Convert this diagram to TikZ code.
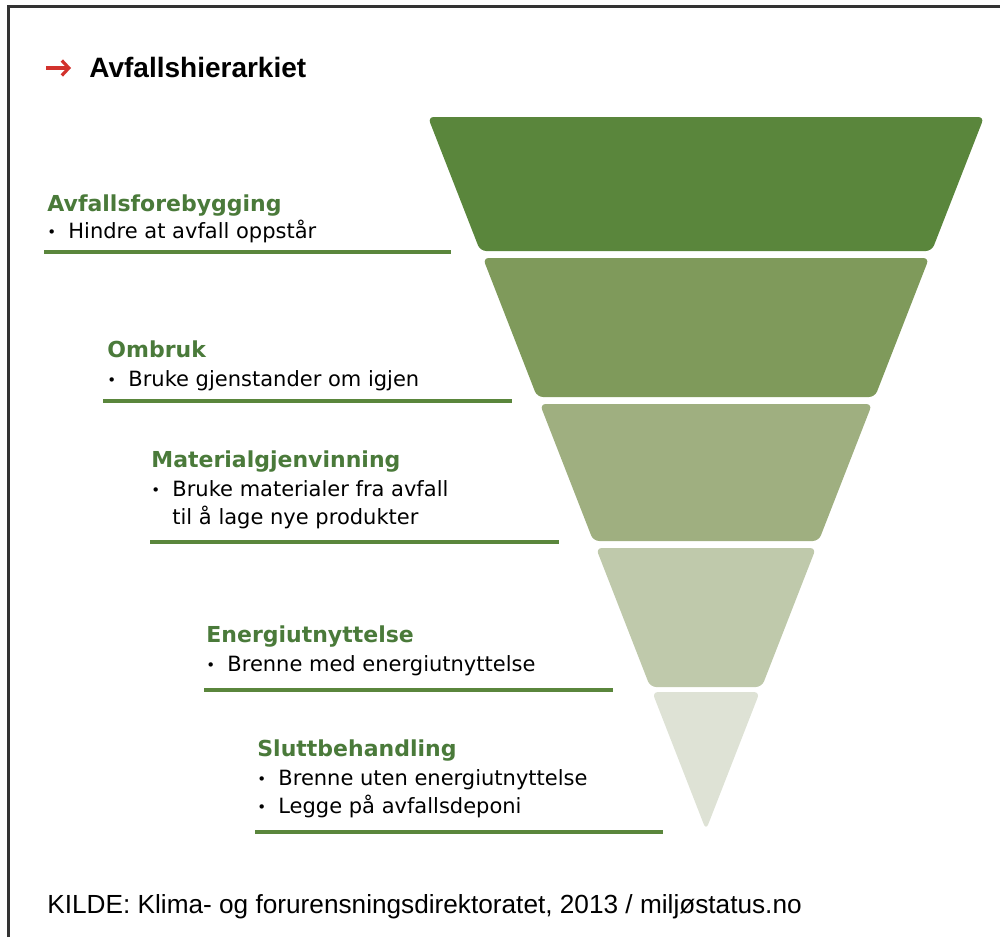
\documentclass[tikz,border=0pt]{standalone}
\usepackage{fontspec}
\setmainfont{Liberation Sans}
\newfontfamily\dvs{DejaVu Sans}
\usetikzlibrary{arrows.meta}
\definecolor{frame}{HTML}{333333}
\definecolor{gA}{HTML}{5A863C}
\definecolor{gB}{HTML}{7F9A5B}
\definecolor{gC}{HTML}{9FAF80}
\definecolor{gD}{HTML}{BFC9AB}
\definecolor{gE}{HTML}{DEE2D5}
\definecolor{headgreen}{HTML}{4A7A3A}
\definecolor{arrowred}{HTML}{D2322D}
\tikzset{
  band/.style={rounded corners=3pt},
  uline/.style={draw=gA, line width=2pt},
  head/.style={anchor=base west, inner sep=0pt, text=headgreen, font=\dvs\fontsize{11}{13}\selectfont\bfseries},
  item/.style={anchor=base west, inner sep=0pt, font=\dvs\fontsize{10.5}{13}\selectfont},
}
\newcommand{\bul}{\makebox[10.5pt][l]{\raisebox{0.2pt}{\fontsize{7.5}{7.5}\selectfont\textbullet}}}
\begin{document}
\begin{tikzpicture}[x=0.5pt,y=-0.5pt]
\useasboundingbox (0,0) rectangle (1000,937);
% frame
\draw[frame, line width=1.3pt] (8.5,937) -- (8.5,6.5) -- (1000,6.5);
% title
\coordinate (arS) at (46,68);
\coordinate (arE) at (71,68);
\draw[arrowred, line width=1.6pt, -{Straight Barb[length=3.5pt,width=7.5pt]}] (arS) -- (arE);
\node[anchor=base west, inner sep=0pt, font=\fontsize{14}{17}\selectfont\bfseries] (title) at (89,77) {Avfallshierarkiet};
% pyramid bands
\fill[gA, band] (427.9,117) -- (984.1,117) -- (931.8,251) -- (480.2,251) -- cycle;
\fill[gB, band] (482.9,258) -- (929.1,258) -- (874.9,397) -- (537.1,397) -- cycle;
\fill[gC, band] (539.9,404) -- (872.1,404) -- (818.7,541) -- (593.3,541) -- cycle;
\fill[gD, band] (596,548) -- (816,548) -- (761.8,687) -- (650.2,687) -- cycle;
\fill[gE, band] (652.2,692) -- (759.8,692) -- (706,830) -- cycle;
% level 1
\node[head] (h1) at (47,211) {Avfallsforebygging};
\node[item] (i1) at (47,238) {\bul Hindre at avfall oppstår};
\coordinate (l1a) at (44,252); \coordinate (l1b) at (451,252);
\draw[uline] (l1a) -- (l1b);
% level 2
\node[head] (h2) at (107,357) {Ombruk};
\node[item] (i2) at (107,386) {\bul Bruke gjenstander om igjen};
\coordinate (l2a) at (103,401); \coordinate (l2b) at (512,401);
\draw[uline] (l2a) -- (l2b);
% level 3
\node[head] (h3) at (151,467) {Materialgjenvinning};
\node[item] (i3) at (151,496) {\bul Bruke materialer fra avfall};
\node[item] (i3b) at (172,524) {til å lage nye produkter};
\coordinate (l3a) at (150,542); \coordinate (l3b) at (559,542);
\draw[uline] (l3a) -- (l3b);
% level 4
\node[head] (h4) at (206,642) {Energiutnyttelse};
\node[item] (i4) at (206,671) {\bul Brenne med energiutnyttelse};
\coordinate (l4a) at (204,690); \coordinate (l4b) at (613,690);
\draw[uline] (l4a) -- (l4b);
% level 5
\node[head] (h5) at (257,756) {Sluttbehandling};
\node[item] (i5) at (257,785) {\bul Brenne uten energiutnyttelse};
\node[item] (i5b) at (257,813) {\bul Legge på avfallsdeponi};
\coordinate (l5a) at (255,832); \coordinate (l5b) at (663,832);
\draw[uline] (l5a) -- (l5b);
% source
\node[anchor=base west, inner sep=0pt, font=\fontsize{13.1}{16}\selectfont] (src) at (47,913) {KILDE: Klima- og forurensningsdirektoratet, 2013 / miljøstatus.no};
\end{tikzpicture}
\end{document}
